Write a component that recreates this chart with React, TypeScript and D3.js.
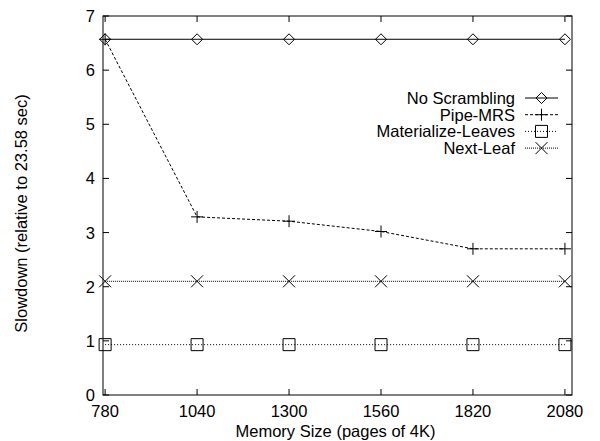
import * as d3 from "d3";
import { useEffect, useRef } from "react";

const memorySizes = [780, 1040, 1300, 1560, 1820, 2080];
const noScrambling = [6.57, 6.57, 6.57, 6.57, 6.57, 6.57];
const pipeMRS = [6.57, 3.29, 3.21, 3.02, 2.7, 2.7];
const materializeLeaves = [0.93, 0.93, 0.93, 0.93, 0.93, 0.93];
const nextLeaf = [2.1, 2.1, 2.1, 2.1, 2.1, 2.1];
const yTicks = [0, 1, 2, 3, 4, 5, 6, 7];

const seriesNames = ["No Scrambling", "Pipe-MRS", "Materialize-Leaves", "Next-Leaf"];

export default function App() {
  const ref = useRef<SVGSVGElement>(null);

  useEffect(() => {
    const svg = d3.select(ref.current);
    svg.selectAll("*").remove();

    const width = 600;
    const height = 441;
    const margin = { top: 16, right: 28, bottom: 46, left: 103 };
    const plotW = width - margin.left - margin.right;
    const plotH = height - margin.top - margin.bottom;
    const font = "Liberation Sans, Arial, sans-serif";
    const fs = "16.5px";

    const x = d3.scaleLinear().domain([774, 2100]).range([0, plotW]);
    const y = d3.scaleLinear().domain([0, 7]).range([plotH, 0]);

    const g = svg.append("g").attr("transform", `translate(${margin.left},${margin.top})`);

    // frame
    g.append("rect")
      .attr("width", plotW)
      .attr("height", plotH)
      .attr("fill", "none")
      .attr("stroke", "#000")
      .attr("stroke-width", 1);

    // ticks (inside, mirrored)
    const tl = 6;
    yTicks.forEach(t => {
      const yy = y(t);
      g.append("line").attr("x1", 0).attr("x2", tl).attr("y1", yy).attr("y2", yy).attr("stroke", "#000");
      g.append("line").attr("x1", plotW).attr("x2", plotW - tl).attr("y1", yy).attr("y2", yy).attr("stroke", "#000");
      g.append("text")
        .attr("x", -8)
        .attr("y", yy + 6)
        .attr("text-anchor", "end")
        .style("font-family", font)
        .style("font-size", fs)
        .text(t);
    });
    memorySizes.forEach(t => {
      const xx = x(t);
      g.append("line").attr("x1", xx).attr("x2", xx).attr("y1", plotH).attr("y2", plotH - tl).attr("stroke", "#000");
      g.append("line").attr("x1", xx).attr("x2", xx).attr("y1", 0).attr("y2", tl).attr("stroke", "#000");
      g.append("text")
        .attr("x", xx)
        .attr("y", plotH + 22)
        .attr("text-anchor", "middle")
        .style("font-family", font)
        .style("font-size", fs)
        .text(t);
    });

    // axis labels
    svg.append("text")
      .attr("x", margin.left + plotW / 2 - 2)
      .attr("y", height - 4)
      .attr("text-anchor", "middle")
      .style("font-family", font)
      .style("font-size", fs)
      .text("Memory Size (pages of 4K)");

    svg.append("text")
      .attr("transform", "rotate(-90)")
      .attr("x", -(margin.top + plotH / 2 + 8))
      .attr("y", 27)
      .attr("text-anchor", "middle")
      .style("font-family", font)
      .style("font-size", fs)
      .text("Slowdown (relative to 23.58 sec)");

    const seriesValues = [noScrambling, pipeMRS, materializeLeaves, nextLeaf];
    const dashes = [null, "3,2", "1,2", "1,1"];

    const marker = (sel: any, kind: number, cx: number, cy: number) => {
      const s = sel.append("path").attr("fill", "none").attr("stroke", "#000").attr("stroke-width", 1);
      const r = kind === 0 ? 5.5 : 6;
      if (kind === 0) {
        s.attr("d", `M${cx - r},${cy}L${cx},${cy - r}L${cx + r},${cy}L${cx},${cy + r}Z`);
      } else if (kind === 1) {
        s.attr("d", `M${cx - r},${cy}L${cx + r},${cy}M${cx},${cy - r}L${cx},${cy + r}`);
      } else if (kind === 2) {
        s.attr("d", `M${cx - r},${cy - r}L${cx + r},${cy - r}L${cx + r},${cy + r}L${cx - r},${cy + r}Z`);
      } else {
        s.attr("d", `M${cx - r},${cy - r}L${cx + r},${cy + r}M${cx - r},${cy + r}L${cx + r},${cy - r}`);
      }
    };

    const line = d3
      .line<number>()
      .x((_, i) => x(memorySizes[i]))
      .y(d => y(d));

    seriesValues.forEach((vals, k) => {
      const p = g.append("path")
        .attr("d", line(vals))
        .attr("fill", "none")
        .attr("stroke", "#000")
        .attr("stroke-width", 1);
      if (dashes[k]) p.attr("stroke-dasharray", dashes[k]);
      vals.forEach((v, i) => marker(g, k, x(memorySizes[i]), y(v)));
    });

    // legend
    const lx = 515;
    const ly0 = 98;
    const dy = 16.7;
    seriesNames.forEach((name, k) => {
      const ly = ly0 + k * dy;
      svg.append("text")
        .attr("x", lx)
        .attr("y", ly + 6)
        .attr("text-anchor", "end")
        .style("font-family", font)
        .style("font-size", fs)
        .text(name);
      const l = svg.append("line")
        .attr("x1", lx + 10)
        .attr("x2", lx + 43)
        .attr("y1", ly)
        .attr("y2", ly)
        .attr("stroke", "#000");
      if (dashes[k]) l.attr("stroke-dasharray", dashes[k]);
      marker(svg, k, lx + 26.5, ly);
    });
  }, []);

  return (
    <svg
      ref={ref}
      width={600}
      height={441}
      style={{ position: "absolute", left: 0, top: 0, background: "#fff" }}
    />
  );
}
